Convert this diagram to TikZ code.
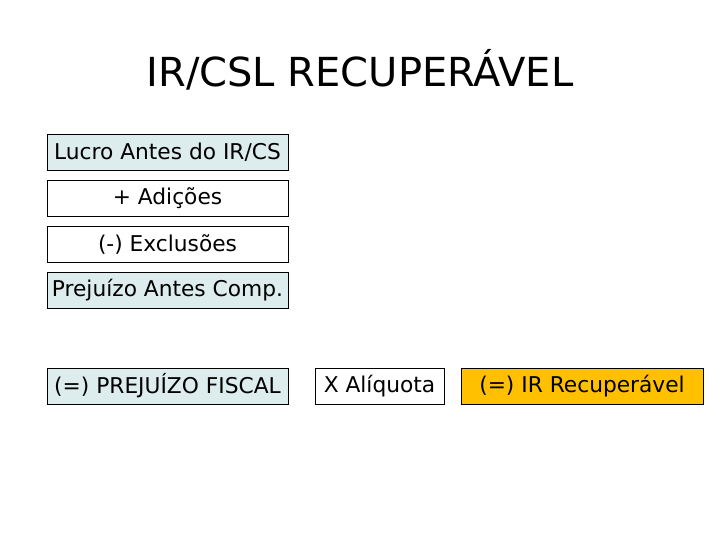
\documentclass[tikz,border=0pt]{standalone}
\usepackage{fontspec}
\setmainfont{DejaVu Sans}
\usetikzlibrary{positioning}
\definecolor{paleBlue}{RGB}{221,237,237}
\definecolor{goldIR}{RGB}{255,192,0}

\begin{document}
\begin{tikzpicture}[
      x=0.75pt,y=-0.75pt,
      node distance=7.4pt,
      calcbox/.style={draw=black,thin,inner sep=0pt,minimum width=180.75pt,minimum height=26.8pt,font=\fontsize{16.3}{18}\selectfont,text=black}
    ]
    \useasboundingbox (0,0) rectangle (720,540);
    \node[font=\fontsize{30}{34}\selectfont] (title) at (360,70) {IR/CSL RECUPERÁVEL};
    \node[calcbox,fill=paleBlue] (lucro) at (167.5,152) {Lucro Antes do IR/CS};
    \node[calcbox,below=of lucro] (adic) {+ Adições};
    \node[calcbox,below=of adic] (excl) {(-) Exclusões};
    \node[calcbox,fill=paleBlue,below=of excl] (prejant) {Prejuízo Antes Comp.};
    \node[calcbox,fill=paleBlue] (prejfis) at (167.5,386) {(=) PREJUÍZO FISCAL};
    \node[calcbox,minimum width=96.75pt] (aliq) at (379.5,386) {X Alíquota};
    \node[calcbox,fill=goldIR,minimum width=181.5pt] (irrec) at (582,386) {(=) IR Recuperável};
  \end{tikzpicture}
\end{document}
